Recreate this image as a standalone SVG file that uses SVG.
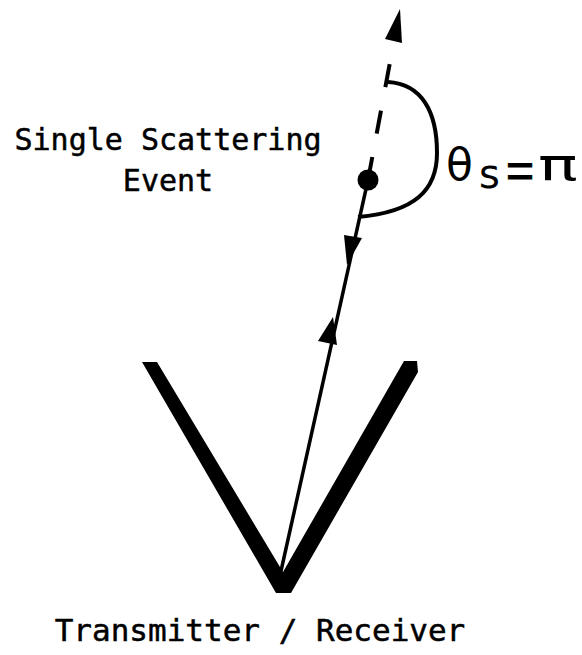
<svg xmlns="http://www.w3.org/2000/svg" width="582" height="655" viewBox="0 0 582 655">
<defs>
<style>
.lbl{font-family:"DejaVu Sans Mono","Liberation Mono",monospace;font-size:30px;fill:#000;stroke:#000;stroke-width:0.5;text-anchor:middle}
.sym{font-family:"DejaVu Sans","Liberation Sans",sans-serif;fill:#000}
.ln{fill:none;stroke:#000;stroke-width:3.5}
.ah{fill:#000;stroke:none}
</style>
</defs>
<rect width="582" height="655" fill="#fff"/>
<g id="transceiver">
<polygon points="142,362 157,362 283,572 404,361 417,361 418,372 291,593 276,593" fill="#000"/>
</g>
<g id="connectors">
<line class="ln" x1="281" y1="571" x2="368" y2="180"/>
<path class="ah" d="M333,317 L318,341 L337,345 Z"/>
<path class="ah" d="M347,265 L344,235 L362,238 Z"/>
<line x1="368" y1="180" x2="394" y2="41" stroke="#000" stroke-width="4" stroke-dasharray="23.4 23.8" fill="none"/>
<path class="ah" d="M400,9 L385,39 L402,43 Z"/>
<path d="M388,82 C422,84 437,112 437,153 C437,190 415,212 358,217" fill="none" stroke="#000" stroke-width="4"/>
</g>
<g id="scatter-event">
<circle cx="368" cy="180" r="10.5" fill="#000"/>
<text class="lbl" x="168" y="150">Single Scattering</text>
<text class="lbl" x="168" y="191">Event</text>
</g>
<g id="angle-label">
<text class="sym" x="446" y="180" font-size="44">θ</text>
<text class="sym" x="479" y="188" font-size="40">s</text>
<text x="506" y="187" font-size="48" font-family="Liberation Sans, Arial, sans-serif" fill="#000" stroke="#000" stroke-width="1">=</text>
<text class="sym" font-size="44" transform="translate(538,180) scale(1.5,1)">π</text>
</g>
<g id="transceiver-label">
<text class="lbl" x="260" y="641" style="font-size:31px">Transmitter / Receiver</text>
</g>
</svg>
